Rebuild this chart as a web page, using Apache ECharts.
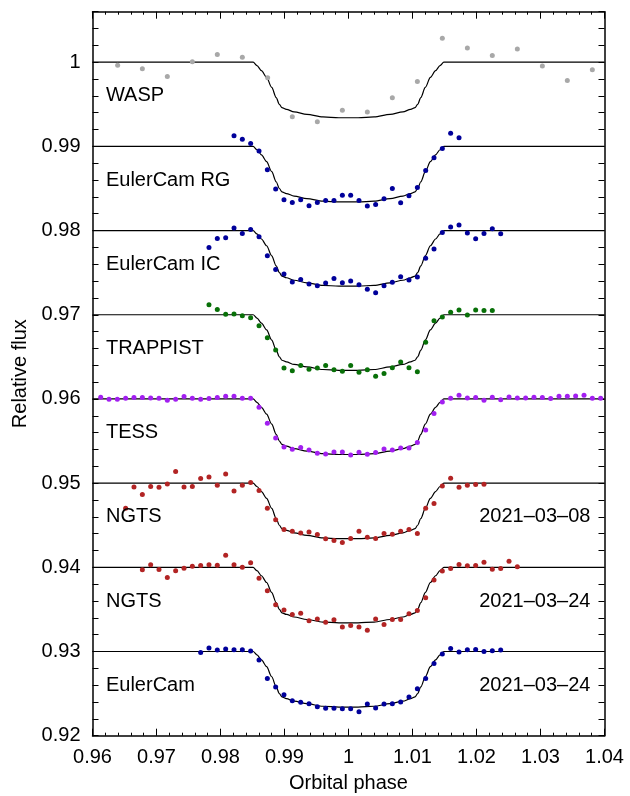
<!DOCTYPE html>
<html>
<head>
<meta charset="utf-8">
<script src="https://cdn.jsdelivr.net/npm/echarts@6/dist/echarts.min.js"></script>
<style>
  html, body { margin: 0; padding: 0; background: #fff; }
  #chart { width: 630px; height: 796px; }
</style>
</head>
<body>
<div id="chart"></div>
<script>
// --- data ---
var panelBaseline = [1.00, 0.99, 0.98, 0.97, 0.96, 0.95, 0.94, 0.93];
var panelName = ['WASP', 'EulerCam RG', 'EulerCam IC', 'TRAPPIST', 'TESS', 'NGTS', 'NGTS', 'EulerCam'];
var panelDate = ['', '', '', '', '', '2021\u201303\u201308', '2021\u201303\u201324', '2021\u201303\u201324'];

// transit model, drop below baseline
var modelPhase = [0.96, 0.983, 0.9851, 0.9857, 0.9864, 0.9872, 0.9880, 0.9887, 0.9892, 0.9896, 0.9903, 0.9915, 0.9935, 0.9960, 0.9985, 1.0000,
  1.0015, 1.0040, 1.0065, 1.0085, 1.0097, 1.0104, 1.0108, 1.0113, 1.0120, 1.0128, 1.0136, 1.0143, 1.0149, 1.017, 1.04];
var modelDrop = [0, 0, 0, -0.0004, -0.0010, -0.0018, -0.0030, -0.0042, -0.0050, -0.0054, -0.0056, -0.0059, -0.0062, -0.0065, -0.0066, -0.0066,
  -0.0066, -0.0065, -0.0062, -0.0059, -0.0056, -0.0054, -0.0050, -0.0042, -0.0030, -0.0018, -0.0010, -0.0004, 0, 0, 0];

// binned phase cadence shared by the binned light curves
var binPhase = [0.96128, 0.96258, 0.96388, 0.96518, 0.96648, 0.96779, 0.96909, 0.97039, 0.97169, 0.97299,
  0.97430, 0.97560, 0.97690, 0.97820, 0.97950, 0.98081, 0.98211, 0.98341, 0.98471, 0.98602,
  0.98732, 0.98862, 0.98992, 0.99122, 0.99253, 0.99383, 0.99513, 0.99643, 0.99773, 0.99904,
  1.00034, 1.00164, 1.00294, 1.00424, 1.00555, 1.00685, 1.00815, 1.00945, 1.01076, 1.01206,
  1.01336, 1.01466, 1.01596, 1.01727, 1.01857, 1.01987, 1.02117, 1.02247, 1.02378, 1.02508,
  1.02638, 1.02768, 1.02898, 1.03029, 1.03159, 1.03289, 1.03419, 1.03549, 1.03680, 1.03810, 1.03940];

var waspPhase = [0.96393, 0.96779, 0.97169, 0.97560, 0.97950, 0.98341, 0.98737, 0.99122, 0.99513, 0.99904,
  1.00294, 1.00685, 1.01076, 1.01466, 1.01857, 1.02247, 1.02638, 1.03029, 1.03419, 1.03810];
var waspFlux = [0.99964, 0.99921, 0.99830, 1.00004, 1.00091, 1.00059, 0.99814, 0.99351, 0.99292, 0.99430,
  0.99410, 0.99577, 0.99771, 1.00285, 1.00170, 1.00079, 1.00158, 0.99956, 0.99782, 0.99909];

var eulerRgStart = 16;
var eulerRgFlux = [0.99126, 0.99086, 0.99035, 0.98944, 0.98722, 0.98493, 0.98366, 0.98335, 0.98366, 0.98295,
  0.98335, 0.98358, 0.98358, 0.98421, 0.98421, 0.98358, 0.98291, 0.98311, 0.98378, 0.98501,
  0.98331, 0.98413, 0.98512, 0.98714, 0.98865, 0.98975, 0.99157, 0.99102];

var eulerIcStart = 13;
var eulerIcFlux = [0.97800, 0.97907, 0.97915, 0.98030, 0.97966, 0.98014, 0.97927, 0.97701, 0.97539, 0.97484,
  0.97389, 0.97420, 0.97365, 0.97345, 0.97377, 0.97432, 0.97381, 0.97401, 0.97357, 0.97302,
  0.97262, 0.97345, 0.97385, 0.97452, 0.97412, 0.97448, 0.97670, 0.97780, 0.97978, 0.98042,
  0.98065, 0.97970, 0.97903, 0.97966, 0.98022, 0.97962];

var trappistStart = 13;
var trappistFlux = [0.97120, 0.97064, 0.97005, 0.97009, 0.96989, 0.96965, 0.96870, 0.96728, 0.96582, 0.96368,
  0.96336, 0.96396, 0.96352, 0.96368, 0.96396, 0.96348, 0.96328, 0.96396, 0.96317, 0.96348,
  0.96269, 0.96301, 0.96372, 0.96439, 0.96372, 0.96324, 0.96673, 0.96930, 0.96973, 0.97029,
  0.97056, 0.96997, 0.97056, 0.97052, 0.97052];

var tessStart = 0;
var tessFlux = [0.96020, 0.95996, 0.95996, 0.96008, 0.96016, 0.96016, 0.96012, 0.96008, 0.95984, 0.95996,
  0.96028, 0.96008, 0.95996, 0.96004, 0.96016, 0.96032, 0.96032, 0.96008, 0.96008, 0.95901,
  0.95711, 0.95537, 0.95430, 0.95402, 0.95422, 0.95395, 0.95355, 0.95347, 0.95371, 0.95371,
  0.95335, 0.95367, 0.95343, 0.95363, 0.95406, 0.95395, 0.95418, 0.95418, 0.95482, 0.95632,
  0.95826, 0.95964, 0.96008, 0.96044, 0.96012, 0.96016, 0.95984, 0.96020, 0.95992, 0.96024,
  0.96012, 0.96012, 0.96020, 0.96016, 0.96004, 0.96032, 0.96032, 0.96036, 0.96044, 0.96008, 0.96008];

var ngts0308Start = 3;
var ngts0308Flux = [0.94702, 0.94955, 0.94864, 0.94959, 0.94951, 0.94991, 0.95137, 0.94955, 0.94959, 0.95054,
  0.95074, 0.94975, 0.95110, 0.94908, 0.94975, 0.95007, 0.94912, 0.94702, 0.94564, 0.94449,
  0.94429, 0.94409, 0.94421, 0.94390, 0.94338, 0.94318, 0.94295, 0.94342, 0.94429, 0.94358,
  0.94342, 0.94401, 0.94394, 0.94429, 0.94449, 0.94401, 0.94702, 0.94758, 0.94967, 0.95058,
  0.94951, 0.94975, 0.94983, 0.94987];

var ngts0324Start = 5;
var ngts0324Flux = [0.93970, 0.94030, 0.93974, 0.93879, 0.93958, 0.93990, 0.94014, 0.94022, 0.94030, 0.94026,
  0.94144, 0.94030, 0.94002, 0.94053, 0.93871, 0.93721, 0.93555, 0.93492, 0.93440, 0.93456,
  0.93365, 0.93385, 0.93349, 0.93377, 0.93290, 0.93310, 0.93290, 0.93254, 0.93385, 0.93322,
  0.93381, 0.93381, 0.93448, 0.93488, 0.93638, 0.93848, 0.93955, 0.93986, 0.94034, 0.94018,
  0.94022, 0.94061, 0.93978, 0.93986, 0.94073, 0.94006];

var euler0324Start = 12;
var euler0324Flux = [0.92989, 0.93041, 0.93017, 0.93029, 0.93021, 0.93021, 0.93005, 0.92898, 0.92680, 0.92578,
  0.92487, 0.92415, 0.92396, 0.92380, 0.92344, 0.92325, 0.92325, 0.92320, 0.92320, 0.92285,
  0.92376, 0.92328, 0.92376, 0.92380, 0.92400, 0.92459, 0.92558, 0.92680, 0.92859, 0.92969,
  0.93037, 0.92993, 0.93021, 0.93025, 0.93001, 0.93009, 0.93017];

// --- build ---
var FONT = '"Liberation Sans", Arial, Helvetica, sans-serif';
var blue = '#00009a', green = '#087008', purple = '#a21ff0', red = '#b22424', grey = '#a8a8a8';

function binned(start, flux) {
  return flux.map(function(f, i) { return [binPhase[start + i], f]; });
}

var pointSets = [
  { data: waspPhase.map(function(p, i) { return [p, waspFlux[i]]; }), color: grey },
  { data: binned(eulerRgStart, eulerRgFlux), color: blue },
  { data: binned(eulerIcStart, eulerIcFlux), color: blue },
  { data: binned(trappistStart, trappistFlux), color: green },
  { data: binned(tessStart, tessFlux), color: purple },
  { data: binned(ngts0308Start, ngts0308Flux), color: red },
  { data: binned(ngts0324Start, ngts0324Flux), color: red },
  { data: binned(euler0324Start, euler0324Flux), color: blue }
];

var series = [];
panelBaseline.forEach(function(b) {
  series.push({
    type: 'line',
    data: modelPhase.map(function(p, i) { return [p, b + modelDrop[i]]; }),
    showSymbol: false,
    smooth: 0.3,
    smoothMonotone: 'x',
    lineStyle: { color: '#000', width: 1.2 },
    silent: true,
    z: 3
  });
});
pointSets.forEach(function(s) {
  series.push({
    type: 'scatter',
    data: s.data,
    symbolSize: 5,
    itemStyle: { color: s.color, opacity: 1 },
    z: 4
  });
});

var leftLabels = panelName.map(function(n, i) {
  return { name: n, value: [0.9621, panelBaseline[i] - 0.0040] };
});
var rightLabels = [];
panelDate.forEach(function(d, i) {
  if (d) rightLabels.push({ name: d, value: [1.0378, panelBaseline[i] - 0.0040] });
});
var textLabel = {
  show: true, formatter: '{b}', color: '#000', opacity: 1, fontSize: 20, fontFamily: FONT,
  verticalAlign: 'middle', textBorderWidth: 0, position: [0, 0]
};
series.push({
  type: 'scatter', data: leftLabels, symbolSize: 0, silent: true,
  itemStyle: { opacity: 1 },
  label: Object.assign({}, textLabel, { align: 'left' }), z: 5
});
series.push({
  type: 'scatter', data: rightLabels, symbolSize: 0, silent: true,
  itemStyle: { opacity: 1 },
  label: Object.assign({}, textLabel, { align: 'right' }), z: 5
});

var frameLine = { show: true, onZero: false, lineStyle: { color: '#000', width: 1.5 } };
var tickStyle = { color: '#000', width: 1 };

var chart = echarts.init(document.getElementById('chart'), null, { renderer: 'canvas' });
chart.setOption({
  animation: false,
  backgroundColor: '#fff',
  grid: { left: 92.5, right: 25.5, top: 11.7, bottom: 60.3, containLabel: false, outerBoundsMode: 'none' },
  xAxis: [{
    type: 'value', min: 0.96, max: 1.04, interval: 0.01, position: 'bottom',
    name: 'Orbital phase', nameLocation: 'middle', nameGap: 38,
    nameTextStyle: { color: '#000', fontSize: 20, fontFamily: FONT },
    axisLine: frameLine,
    axisTick: { show: true, inside: true, length: 7, lineStyle: tickStyle },
    minorTick: { show: true, splitNumber: 5, length: 3, lineStyle: tickStyle },
    axisLabel: {
      color: '#000', fontSize: 20, fontFamily: FONT, margin: 12,
      formatter: function(v) { return String(+v.toFixed(2)); }
    },
    splitLine: { show: false }
  }, {
    type: 'value', min: 0.96, max: 1.04, interval: 0.01, position: 'top',
    axisLine: frameLine,
    axisTick: { show: true, inside: true, length: 7, lineStyle: tickStyle },
    minorTick: { show: true, splitNumber: 5, length: 3, lineStyle: tickStyle },
    axisLabel: { show: false },
    splitLine: { show: false }
  }],
  yAxis: [{
    type: 'value', min: 0.92, max: 1.006, interval: 0.002, position: 'left',
    name: 'Relative flux', nameLocation: 'middle', nameGap: 62,
    nameTextStyle: { color: '#000', fontSize: 20, fontFamily: FONT },
    axisLine: frameLine,
    axisTick: { show: true, inside: true, length: 6, lineStyle: tickStyle },
    axisLabel: {
      color: '#000', fontSize: 20, fontFamily: FONT, margin: 12,
      formatter: function(v) {
        var h = v * 100;
        if (Math.abs(h - Math.round(h)) > 1e-6) return '';
        return String(+v.toFixed(2));
      }
    },
    splitLine: { show: false }
  }, {
    type: 'value', min: 0.92, max: 1.006, interval: 0.002, position: 'right',
    axisLine: frameLine,
    axisTick: { show: true, inside: true, length: 6, lineStyle: tickStyle },
    axisLabel: { show: false },
    splitLine: { show: false }
  }],
  series: series
});
window.addEventListener('resize', function() { chart.resize(); });
</script>
</body>
</html>
